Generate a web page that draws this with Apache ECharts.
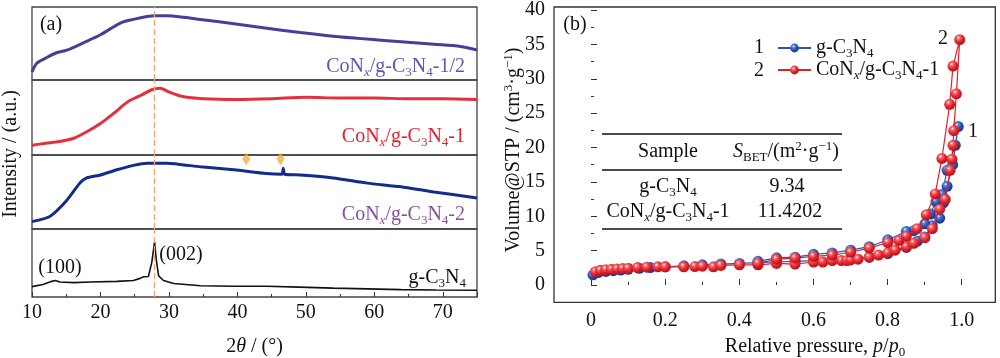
<!DOCTYPE html>
<html><head><meta charset="utf-8">
<script src="https://cdn.jsdelivr.net/npm/echarts@6/dist/echarts.min.js"></script>
<style>html,body{margin:0;padding:0;background:#fff}#c{width:1000px;height:358px}</style>
</head><body><div id="c"></div>
<script>
// ---------- Panel (a): XRD patterns (relative intensity within each strip, 0-100) ----------
const purpleTheta = [10, 10.7, 12, 13.5, 15.1, 17.5, 20, 22.9, 24.8, 26.8, 28, 29.7, 32.2, 34.6, 39.5, 44.3, 49.2, 54, 59, 63.9, 68.7, 72.6, 75];
const purpleI     = [11, 23, 30, 37, 41, 51, 62, 78, 83, 87, 88, 88, 86, 83, 77, 71, 65, 60, 56, 52.5, 49, 46, 41];
const redTheta = [10, 12, 14, 16, 18, 20, 22, 24, 26, 27.5, 28.7, 30, 32, 35, 40, 45, 50, 55, 60, 65, 70, 75];
const redI     = [13, 15.6, 18, 22, 31, 42, 56, 71, 80, 87, 89, 84, 78, 75, 74, 75, 77, 76, 76, 75, 75, 74];
const blueTheta = [10, 12.6, 15.1, 17, 18, 20, 22.4, 24.8, 26.8, 29.7, 34.6, 39.5, 44.2, 46.5, 46.7, 46.9, 49.2, 54, 59, 63.9, 68.7, 75];
const blueI     = [10, 17, 39, 62, 69, 73, 80, 86, 89, 89, 84, 80, 75, 74, 82, 74, 73, 69, 62, 57, 50, 42];
const blackTheta = [10, 11.6, 12.9, 13.4, 14.1, 16.1, 18.5, 22.4, 24.8, 25.8, 26.3, 27, 27.5, 27.9, 28.2, 28.5, 29.2, 30.7, 34.6, 39.5, 44.3, 49, 54, 59, 63.9, 69, 75];
const blackI     = [15.3, 18.5, 23, 24.3, 22, 21.2, 22, 23, 24.3, 27.4, 29.7, 30.1, 51, 80.7, 51, 31, 24.3, 19.9, 16.6, 15.8, 15.8, 14.5, 13.1, 12, 10.8, 10.3, 9.9];
const markTheta = [41.3, 46.3];
const markI = [94.7, 94.7];
const peakTheta = 27.9;
const xrdTicksMin = 10, xrdTicksMax = 75;

// ---------- Panel (b): N2 isotherms ----------
const gP_ads = [0.005, 0.02, 0.04, 0.06, 0.08, 0.1, 0.13, 0.16, 0.2, 0.25, 0.3, 0.35, 0.4, 0.45, 0.5, 0.55, 0.6, 0.65, 0.7, 0.75, 0.8, 0.85, 0.88, 0.9, 0.92, 0.94, 0.95, 0.96, 0.975, 0.99];
const gV_ads = [1.45, 1.8, 1.95, 2.05, 2.15, 2.25, 2.4, 2.5, 2.6, 2.75, 2.9, 3.0, 3.1, 3.2, 3.3, 3.4, 3.5, 3.6, 3.75, 4.0, 4.5, 5.4, 6.3, 6.9, 8.5, 9.6, 11.8, 14.2, 17.3, 22.8];
const gP_des = [0.982, 0.96, 0.946, 0.93, 0.915, 0.9, 0.87, 0.85, 0.8, 0.75, 0.7, 0.65, 0.6, 0.55, 0.5, 0.45];
const gV_des = [20.1, 16.5, 13.0, 12.0, 10.2, 8.8, 7.8, 7.7, 6.5, 5.5, 5.0, 4.6, 4.4, 4.0, 3.9, 3.4];
const cP_ads = [0.012, 0.025, 0.04, 0.055, 0.07, 0.085, 0.1, 0.125, 0.15, 0.18, 0.2, 0.25, 0.28, 0.3, 0.33, 0.35, 0.4, 0.45, 0.5, 0.55, 0.6, 0.625, 0.65, 0.675, 0.69, 0.7, 0.72, 0.75, 0.775, 0.8, 0.82, 0.85, 0.87, 0.9, 0.92, 0.94, 0.955, 0.968, 0.973, 0.976, 0.978, 0.985, 0.994];
const cV_ads = [1.9, 2.1, 2.2, 2.25, 2.3, 2.35, 2.4, 2.5, 2.55, 2.6, 2.6, 2.6, 2.65, 2.7, 2.6, 2.8, 2.9, 2.9, 3.1, 3.0, 3.3, 3.3, 3.5, 3.5, 3.5, 3.6, 3.7, 4.0, 4.3, 4.6, 5.0, 5.5, 6.0, 6.8, 8.1, 10.9, 12.3, 16.5, 18.1, 20.1, 22.2, 27.5, 35.3];
const cP_des = [0.976, 0.967, 0.946, 0.928, 0.904, 0.879, 0.85, 0.83, 0.8, 0.75, 0.7, 0.65, 0.6, 0.55, 0.5, 0.45];
const cV_des = [31.5, 26.0, 18.2, 13.1, 10.1, 8.1, 7.0, 6.4, 6.1, 5.3, 4.7, 4.3, 4.1, 3.85, 3.7, 3.1];

const tableRows = [['{n|g-C}{s|3}{n|N}{s|4}', '9.34'], ['{n|CoN}{si|x}{n|/g-C}{s|3}{n|N}{s|4}{n|-1}', '11.4202']];

const FONT = 'Liberation Serif';
function R(size) {
  const sub = Math.round(size * 0.66);
  return {
    n: {fontFamily: FONT, fontSize: size, lineHeight: size + 4},
    i: {fontFamily: FONT, fontSize: size, fontStyle: 'italic', lineHeight: size + 4},
    s: {fontFamily: FONT, fontSize: sub, lineHeight: sub + 2, verticalAlign: 'bottom'},
    si: {fontFamily: FONT, fontSize: sub, fontStyle: 'italic', lineHeight: sub + 2, verticalAlign: 'bottom'},
    p: {fontFamily: FONT, fontSize: sub, lineHeight: sub + 2, verticalAlign: 'top'}
  };
}
function T(x, y, text, o) {
  o = o || {};
  const size = o.size || 20;
  return {
    type: 'text', x: x, y: y, z: 100, rotation: o.rot || 0,
    style: {
      text: text, rich: R(size), fill: o.color || '#111',
      fontFamily: FONT, fontSize: size,
      align: o.align || 'center', verticalAlign: 'middle',
      textAlign: o.align || 'center', textVerticalAlign: 'middle'
    }
  };
}
function zip(a, b) { return a.map((v, i) => [v, b[i]]); }

const chart = echarts.init(document.getElementById('c'), null, {renderer: 'canvas'});

const stripTops = [7, 80, 155, 229], stripH = [73, 75, 74, 74];
const grids = stripTops.map((t, i) => ({left: 32, width: 445, top: t, height: stripH[i], show: true, borderColor: '#444', borderWidth: 1.3, backgroundColor: 'transparent'}));
grids.push({left: 554, width: 441.3, top: 7, height: 295.3, show: true, borderColor: '#333', borderWidth: 1.3});
grids.push({left: 591, width: 370.7, top: 7, height: 278, show: false});

const xAxes = [], yAxes = [];
for (let i = 0; i < 4; i++) {
  const bottom = i === 3;
  xAxes.push({
    type: 'value', gridIndex: i, min: xrdTicksMin, max: xrdTicksMax, interval: 10, show: bottom,
    axisLine: {show: false}, splitLine: {show: false},
    axisTick: {show: bottom, inside: true, length: 5, lineStyle: {color: '#333'}},
    minorTick: {show: bottom, splitNumber: 2, length: 3, lineStyle: {color: '#333'}},
    axisLabel: {show: bottom, showMaxLabel: false, margin: 6, fontFamily: FONT, fontSize: 20, color: '#111'},
    name: bottom ? '{n|2}{i|θ}{n| / (°)}' : '', nameLocation: 'middle', nameGap: 38,
    nameTextStyle: {fontFamily: FONT, fontSize: 20, color: '#111', rich: R(20)}
  });
  yAxes.push({type: 'value', gridIndex: i, min: 0, max: 100, show: false});
}
xAxes.push({type: 'value', gridIndex: 4, min: -0.1, max: 1.09, show: false});
yAxes.push({type: 'value', gridIndex: 4, min: -2.5, max: 40, show: false});
xAxes.push({
  type: 'value', gridIndex: 5, min: 0, max: 1, interval: 0.2, offset: 17.3,
  axisLine: {show: false}, splitLine: {show: false},
  axisTick: {inside: true, length: 6, lineStyle: {color: '#333'}},
  minorTick: {show: true, splitNumber: 2, length: 3, lineStyle: {color: '#333'}},
  axisLabel: {margin: 8, fontFamily: FONT, fontSize: 20, color: '#111', formatter: v => v === 0 ? '0' : v.toFixed(1)}
});
yAxes.push({
  type: 'value', gridIndex: 5, min: 0, max: 40, interval: 5, offset: 37,
  axisLine: {show: false}, splitLine: {show: false},
  axisTick: {inside: true, length: 6, lineStyle: {color: '#333'}},
  minorTick: {show: true, splitNumber: 2, length: 3, lineStyle: {color: '#333'}},
  axisLabel: {margin: 9, fontFamily: FONT, fontSize: 20, color: '#111'}
});

const dash = {symbol: 'none', silent: true, label: {show: false},
  lineStyle: {color: '#F4A26A', type: [6, 3], width: 1.3}, data: [{xAxis: peakTheta}]};

function xrd(idx, xs, ys, color, smooth, w) {
  return {type: 'line', xAxisIndex: idx, yAxisIndex: idx, data: zip(xs, ys), showSymbol: false, symbol: 'none',
    smooth: smooth, lineStyle: {color: color, width: w}, markLine: dash, silent: true, z: 3};
}

function ball(c0, c1, c2) {
  return new echarts.graphic.RadialGradient(0.38, 0.32, 0.7, [
    {offset: 0, color: '#ffffff'}, {offset: 0.22, color: c0}, {offset: 0.6, color: c1}, {offset: 1, color: c2}]);
}

const series = [
  xrd(0, purpleTheta, purpleI, '#4B3C96', 0.3, 3),
  xrd(1, redTheta, redI, '#E2303F', 0.3, 3),
  xrd(2, blueTheta, blueI, '#132C8C', 0.2, 3),
  xrd(3, blackTheta, blackI, '#111111', false, 1.6),
  {type: 'scatter', xAxisIndex: 2, yAxisIndex: 2, data: zip(markTheta, markI), symbol: 'diamond',
   symbolSize: [8, 13], itemStyle: {color: '#F2B233'}, clip: false, z: 10, silent: true},
  {name: 'g-C3N4', type: 'line', xAxisIndex: 4, yAxisIndex: 4, data: zip(gP_ads.concat(gP_des), gV_ads.concat(gV_des)),
   symbol: 'circle', symbolSize: 11, showAllSymbol: true, lineStyle: {color: '#2A55B5', width: 1.2},
   itemStyle: {color: ball('#5A86D8', '#2452B0', '#17358A')}, silent: true, z: 4},
  {name: 'CoNx/g-C3N4-1', type: 'line', xAxisIndex: 4, yAxisIndex: 4, data: zip(cP_ads.concat(cP_des), cV_ads.concat(cV_des)),
   symbol: 'circle', symbolSize: 11, showAllSymbol: true, lineStyle: {color: '#E0202A', width: 1.2},
   itemStyle: {color: ball('#F26A6E', '#E2232B', '#B80E16')}, silent: true, z: 5}
];

const legendText = {'g-C3N4': '{n|g-C}{s|3}{n|N}{s|4}', 'CoNx/g-C3N4-1': '{n|CoN}{si|x}{n|/g-C}{s|3}{n|N}{s|4}{n|-1}'};

const graphic = [
  T(11, 154, 'Intensity / (a.u.)', {rot: Math.PI / 2}),
  T(514, 150, '{n|Volume@STP / (cm}{p|3}{n|·g}{p|−1}{n|)}', {rot: Math.PI / 2}),
  T(815, 347, '{n|Relative pressure, }{i|p}{n|/}{i|p}{s|0}'),
  T(51, 25, '(a)'),
  T(575, 25, '(b)'),
  T(60, 268, '(100)'),
  T(181, 255, '(002)'),
  T(465, 67, '{n|CoN}{si|x}{n|/g-C}{s|3}{n|N}{s|4}{n|-1/2}', {align: 'right', color: '#5B58B2'}),
  T(465, 137, '{n|CoN}{si|x}{n|/g-C}{s|3}{n|N}{s|4}{n|-1}', {align: 'right', color: '#E2202E'}),
  T(465, 215, '{n|CoN}{si|x}{n|/g-C}{s|3}{n|N}{s|4}{n|-2}', {align: 'right', color: '#8A4E9F'}),
  T(466, 278, '{n|g-C}{s|3}{n|N}{s|4}', {align: 'right'}),
  T(759, 48, '1'),
  T(759, 71, '2'),
  T(943, 39, '2'),
  T(973, 132, '1'),
  {type: 'line', z: 100, shape: {x1: 602, y1: 134, x2: 842, y2: 134}, style: {stroke: '#111', lineWidth: 1.5}},
  {type: 'line', z: 100, shape: {x1: 602, y1: 170, x2: 842, y2: 170}, style: {stroke: '#111', lineWidth: 1.5}},
  {type: 'line', z: 100, shape: {x1: 602, y1: 229, x2: 842, y2: 229}, style: {stroke: '#111', lineWidth: 1.5}},
  T(668, 152, 'Sample'),
  T(786, 152, '{i|S}{s|BET}{n|/(m}{p|2}{n|·g}{p|−1}{n|)}'),
  T(668, 187, tableRows[0][0]),
  T(787, 187, tableRows[0][1]),
  T(668, 212, tableRows[1][0]),
  T(790, 212, tableRows[1][1])
];

chart.setOption({
  animation: false,
  backgroundColor: '#fff',
  textStyle: {fontFamily: FONT},
  grid: grids,
  xAxis: xAxes,
  yAxis: yAxes,
  legend: {
    left: 772, top: 33, orient: 'vertical', itemWidth: 33, itemHeight: 11, itemGap: 0,
    data: ['g-C3N4', 'CoNx/g-C3N4-1'],
    formatter: n => legendText[n],
    textStyle: {fontFamily: FONT, fontSize: 20, color: '#111', rich: R(20)}
  },
  series: series,
  graphic: graphic
});
</script></body></html>
